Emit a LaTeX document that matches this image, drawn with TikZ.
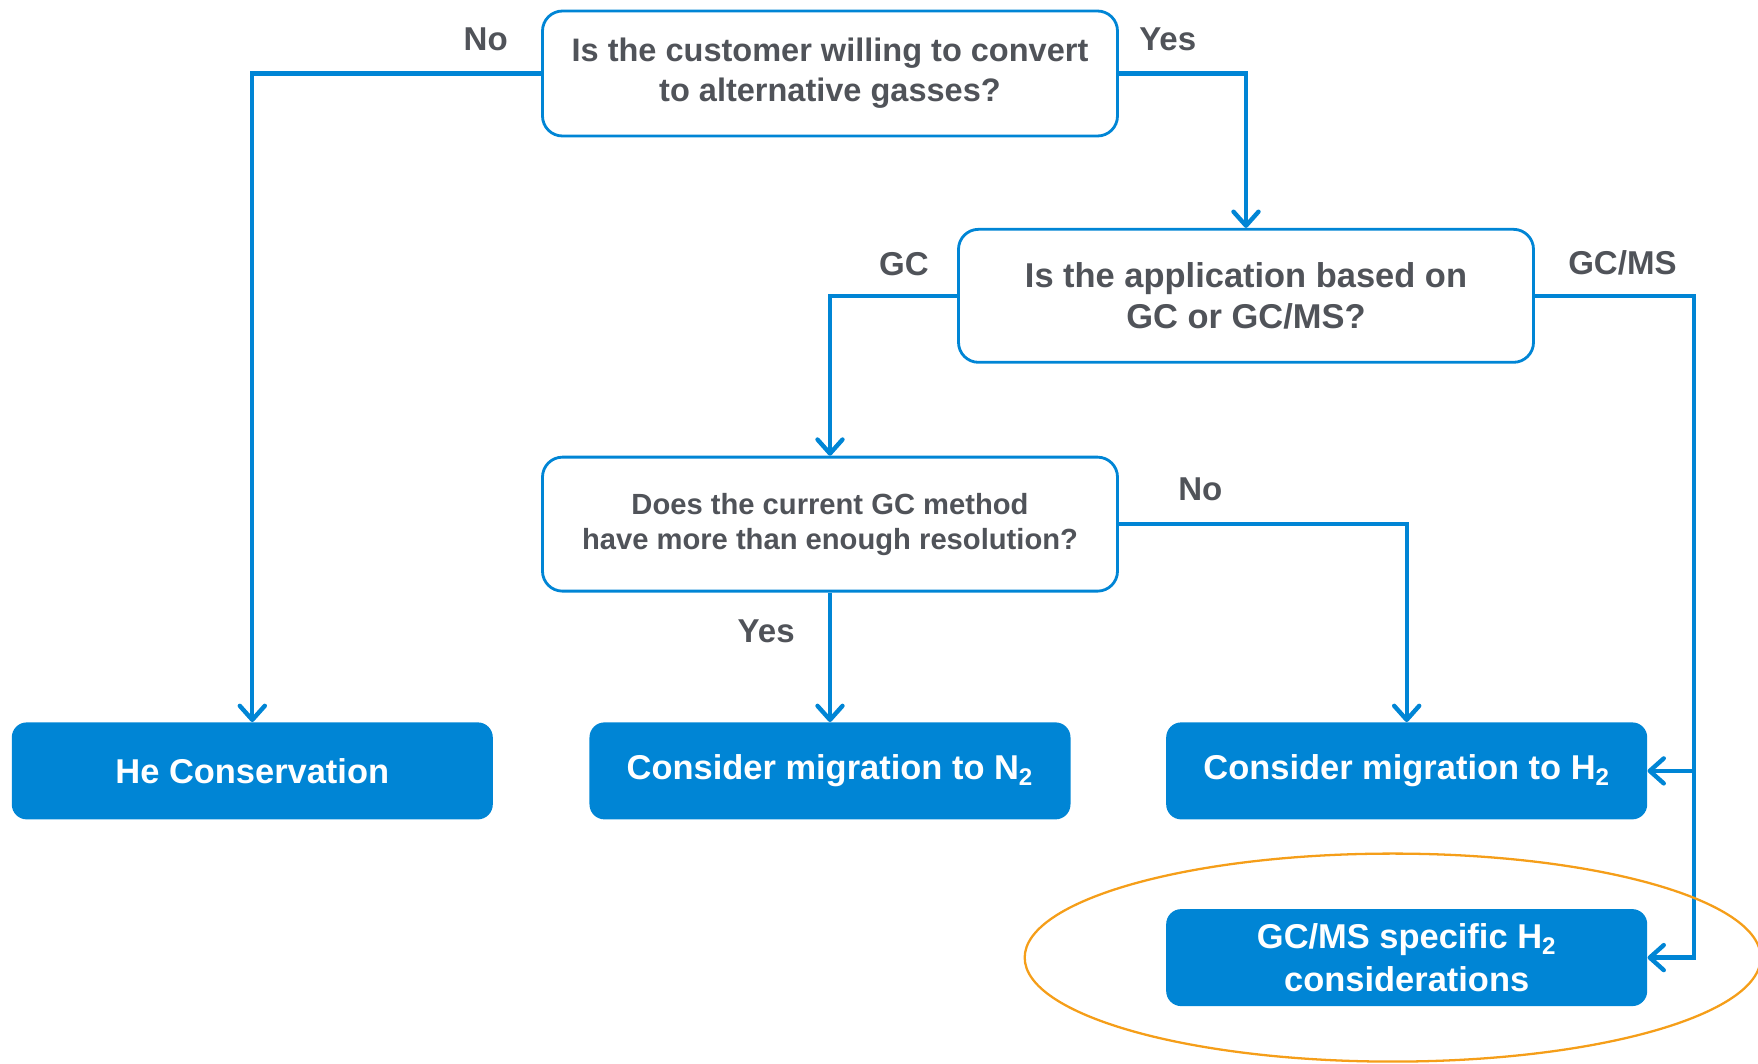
\documentclass[tikz,border=0pt]{standalone}
\usepackage{fontspec}
\setmainfont{Liberation Sans}
\usepackage{tikz}
\usetikzlibrary{arrows.meta, positioning}
\definecolor{flowblue}{RGB}{0, 133, 213}
\definecolor{textgray}{RGB}{80, 83, 89}
\definecolor{ringorange}{RGB}{245, 158, 25}

\begin{document}
\begin{tikzpicture}[
    question/.style={rectangle, draw=flowblue, line width=1.6pt, rounded corners=0.4cm,
                minimum width=11.5cm, fill=white, text=textgray, align=center,
                font=\bfseries\fontsize{19.6}{23.6}\selectfont},
    answer/.style={rectangle, fill=flowblue, rounded corners=0.3cm,
                minimum width=9.62cm, minimum height=1.94cm, text=white, align=center,
                font=\bfseries\fontsize{19.6}{24.2}\selectfont},
    branch/.style={text=textgray, inner sep=0pt, font=\bfseries\fontsize{18.8}{22}\selectfont},
    arrow/.style={-{Straight Barb[length=2.8mm, width=5mm, round]}, line width=2.5pt, flowblue},
    ring/.style={draw=ringorange, line width=1.3pt}
]
    \useasboundingbox (-16.6,1.47) rectangle (18.56,-19.79);

    % Questions
    \node[question, minimum height=2.5cm, font=\bfseries\fontsize{18.5}{22.8}\selectfont] (convert)
        {Is the customer willing to convert\\to alternative gasses?};
    \node[question, minimum height=2.66cm, below=1.81cm of convert.south, xshift=8.32cm] (technique)
        {Is the application based on\\GC or GC/MS?};
    \node[question, minimum height=2.68cm, below=1.84cm of technique.south, xshift=-8.32cm,
          font=\bfseries\fontsize{16.6}{19.9}\selectfont] (resolution)
        {Does the current GC method\\have more than enough resolution?};

    % Outcomes
    \node[answer, below=2.59cm of resolution] (nitrogen) {Consider migration to N\textsubscript{2}};
    \node[answer, left=1.92cm of nitrogen] (helium) {He Conservation};
    \node[answer, right=1.9cm of nitrogen] (hydrogen) {Consider migration to H\textsubscript{2}};
    \node[answer, below=1.78cm of hydrogen] (msspecific) {GC/MS specific H\textsubscript{2}\\considerations};
    \coordinate[right=3.18cm of technique.east] (msbus);

    % Connections
    \draw[arrow] (convert.west) -| (helium.north);
    \draw[arrow] (convert.east) -| (technique.north);
    \draw[arrow] (technique.west) -| (resolution.north);
    \draw[arrow] (resolution.east) -| (hydrogen.north);
    \draw[arrow] (resolution.south) -- (nitrogen.north);
    \draw[arrow] (technique.east) -- (msbus) |- (msspecific.east);
    \draw[arrow] (msbus |- hydrogen.east) -- (hydrogen.east);

    % Branch labels
    \node[branch, above left=0.45cm and 0.66cm of convert.west] (convertno) {No};
    \node[branch, above right=0.45cm and 0.4cm of convert.east] (convertyes) {Yes};
    \node[branch, above left=0.4cm and 0.56cm of technique.west] (gc) {GC};
    \node[branch, above right=0.4cm and 0.66cm of technique.east] (gcms) {GC/MS};
    \node[branch, above right=0.46cm and 1.18cm of resolution.east] (resolutionno) {No};
    \node[branch, below left=0.54cm and 0.7cm of resolution.south] (resolutionyes) {Yes};

    % Highlight
    \draw[ring] ([xshift=-0.28cm]msspecific.center) ellipse [x radius=7.36cm, y radius=2.08cm];

\end{tikzpicture}
\end{document}
